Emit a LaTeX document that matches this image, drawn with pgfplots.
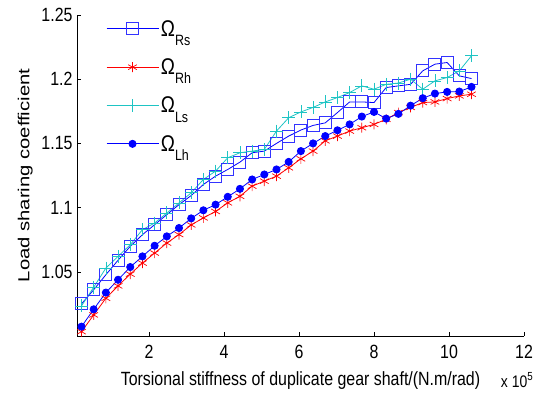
\documentclass[border=0pt]{standalone}
\usepackage{fontspec}
\setmainfont{Liberation Sans}
\usepackage{pgfplots}
\pgfplotsset{compat=1.18}
\definecolor{mblue}{RGB}{0,0,255}
\definecolor{mred}{RGB}{255,0,0}
\definecolor{mcyan}{RGB}{30,196,196}

\pgfplotstableread{
x      Rs      Rh      Ls      Lh
0.2    1.0250  1.0034  1.0234  1.0073
0.525  1.0360  1.0164  1.0380  1.0208
0.85   1.0477  1.0294  1.0529  1.0338
1.175  1.0590  1.0390  1.0620  1.0438
1.5    1.0698  1.0482  1.0711  1.0537
1.825  1.0789  1.0568  1.0828  1.0620
2.15   1.0867  1.0646  1.0880  1.0703
2.475  1.0945  1.0724  1.0958  1.0776
2.8    1.1023  1.0790  1.1036  1.0841
3.125  1.1094  1.0865  1.1115  1.0916
3.45   1.1180  1.0920  1.1219  1.0979
3.775  1.1245  1.0970  1.1284  1.1023
4.1    1.1297  1.1037  1.1388  1.1084
4.425  1.1354  1.1088  1.1427  1.1146
4.75   1.1427  1.1167  1.1440  1.1219
5.075  1.1440  1.1206  1.1453  1.1258
5.4    1.1500  1.1245  1.1596  1.1297
5.725  1.1557  1.1310  1.1700  1.1356
6.05   1.1604  1.1380  1.1745  1.1440
6.375  1.1640  1.1440  1.1780  1.1500
6.7    1.1660  1.1520  1.1823  1.1557
7.025  1.1740  1.1557  1.1857  1.1602
7.35   1.1823  1.1596  1.1896  1.1648
7.675  1.1823  1.1622  1.1948  1.1709
8.0    1.1818  1.1648  1.1922  1.1745
8.325  1.1935  1.1688  1.1960  1.1693
8.65   1.1948  1.1740  1.1970  1.1730
8.975  1.1960  1.1780  1.2000  1.1794
9.3    1.2065  1.1818  1.1922  1.1852
9.625  1.2117  1.1823  1.1987  1.1888
9.95   1.2130  1.1849  1.2013  1.1901
10.275 1.2026  1.1870  1.2065  1.1904
10.6   1.2005  1.1883  1.2182  1.1940
}\loadtable

% the reference is stretched vertically, so text is too
\newcommand{\vs}[1]{\scalebox{1}[1.2]{#1}}
\newcommand{\leg}[1]{\vs{\fontsize{19}{19}\selectfont\char"03A9\raisebox{-8bp}{\fontsize{12.5}{12.5}\selectfont #1}}}

\begin{document}
\begin{tikzpicture}
\useasboundingbox (0,0) rectangle (536bp,401bp);
\begin{axis}[
    at={(77bp,65bp)}, anchor=south west,
    scale only axis,
    width=447bp, height=321bp,
    xmin=0.08, xmax=12,
    ymin=1.0, ymax=1.25,
    axis x line*=bottom, axis y line*=left,
    axis line style={black, line width=0.6pt},
    tick align=inside,
    major tick length=4bp,
    tick style={black, line width=0.5pt},
    xtick={2,4,6,8,10,12},
    xticklabels={\vs{2},\vs{4},\vs{6},\vs{8},\vs{10},\vs{12}},
    ytick={1.05,1.1,1.15,1.2,1.25},
    yticklabels={\vs{1.05},\vs{1.1},\vs{1.15},\vs{1.2},\vs{1.25}},
    tick label style={font=\fontsize{16}{18}\selectfont, black},
    xticklabel style={yshift=-6bp},
    yticklabel style={xshift=-1bp},
    xlabel={\vs{Torsional stiffness of duplicate gear shaft/(N.m/rad)}},
    ylabel={\scalebox{1.27}[1]{Load sharing coefficient}},
    label style={font=\fontsize{16}{18}\selectfont},
    xlabel style={yshift=-6bp},
    ylabel style={yshift=2bp},
    legend style={at={(0.058,0.997)}, anchor=north west, draw=none, fill=none,
        row sep=17bp},
    legend cell align=left,
    legend image code/.code={\draw[#1, mark repeat=2, mark phase=2]
        plot coordinates {(0bp,0bp) (26bp,0bp) (52bp,0bp)};},
    clip=false,
]
\addplot[mblue, line width=0.8pt, mark=square, mark size=6bp,
    mark options={line width=0.9pt, draw=mblue!80}] table[x=x, y=Rs] {\loadtable};
\addlegendentry{\leg{Rs}}
\addplot[mred, line width=0.8pt, mark=asterisk, mark size=5bp,
    mark options={line width=0.7pt}] table[x=x, y=Rh] {\loadtable};
\addlegendentry{\leg{Rh}}
\addplot[mcyan, line width=0.8pt, mark=+, mark size=6.5bp,
    mark options={line width=0.7pt}] table[x=x, y=Ls] {\loadtable};
\addlegendentry{\leg{Ls}}
\addplot[mblue, line width=0.8pt, mark=*, mark size=3.6bp,
    mark options={fill=mblue}] table[x=x, y=Lh] {\loadtable};
\addlegendentry{\leg{Lh}}
\node[anchor=base west, font=\fontsize{14}{16}\selectfont, inner sep=0pt]
    at (rel axis cs:0.948,0) [yshift=-51bp] {\vs{x 10\textsuperscript{5}}};
\end{axis}
\end{tikzpicture}
\end{document}
